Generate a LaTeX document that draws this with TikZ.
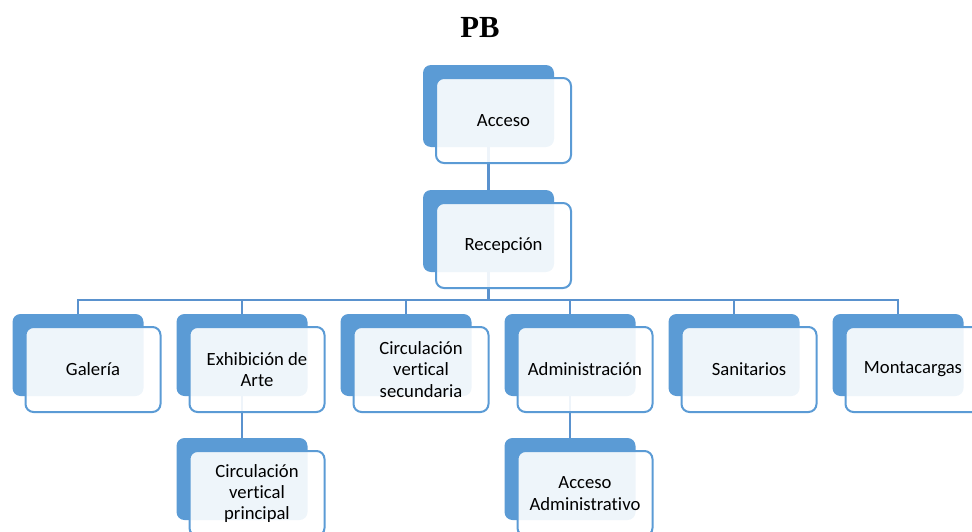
\documentclass[tikz,border=0pt]{standalone}
\usepackage{fontspec}
\setmainfont{Carlito}[Ligatures={NoCommon}]
\newfontfamily\titlefont{Liberation Serif}
\usetikzlibrary{backgrounds}
\definecolor{accblue}{HTML}{5B9BD5}
\definecolor{linkblue}{HTML}{5A92CE}
\tikzset{
  backbox/.style={draw=none, fill=accblue, rounded corners=6pt, minimum width=131*0.75pt, minimum height=82*0.75pt, inner sep=0pt},
  frontbox/.style={draw=accblue, line width=1.5pt, fill=white, fill opacity=0.9, text opacity=1, rounded corners=6pt, minimum width=135*0.75pt, minimum height=85*0.75pt, inner sep=0pt, align=center, font=\fontsize{14}{16}\selectfont, text=black},
  link/.style={draw=linkblue, line width=1.6pt}
}
\newcommand{\hbx}[4]{%
  \node[backbox] (#1) at (#2,#3) {};
  \node[frontbox] (#1F) at ([shift={(15,14.5)}]#1.center) {#4};}
\begin{document}
\begin{tikzpicture}[x=0.75pt,y=-0.75pt]
\useasboundingbox (0,0) rectangle (972,532);
\clip (0,0) rectangle (972,532);
\node[font=\titlefont\bfseries\fontsize{23}{26}\selectfont] (title) at (480,28) {PB};
\hbx{acc}{488.5}{106}{Acceso}
\hbx{rec}{488.5}{231}{Recepción}
\hbx{gal}{78}{355}{Galería}
\hbx{exh}{242}{355}{Exhibición de\\Arte}
\hbx{cvs}{406}{355}{Circulación\\vertical\\secundaria}
\hbx{adm}{570}{355}{Administración}
\hbx{san}{734}{355}{Sanitarios}
\hbx{mon}{898}{355}{Montacargas}
\hbx{cvp}{242}{479}{Circulación\\vertical\\principal}
\hbx{aca}{570}{479}{Acceso\\Administrativo}
\begin{scope}[on background layer]
  \draw[link] (acc.south) -- (rec.north);
  \foreach \c in {gal,exh,cvs,adm,san,mon}
    \draw[link] (rec.south) -- ++(0,28) -| (\c.north);
  \draw[link] (exh.south) -- (cvp.north);
  \draw[link] (adm.south) -- (aca.north);
\end{scope}
\end{tikzpicture}
\end{document}
